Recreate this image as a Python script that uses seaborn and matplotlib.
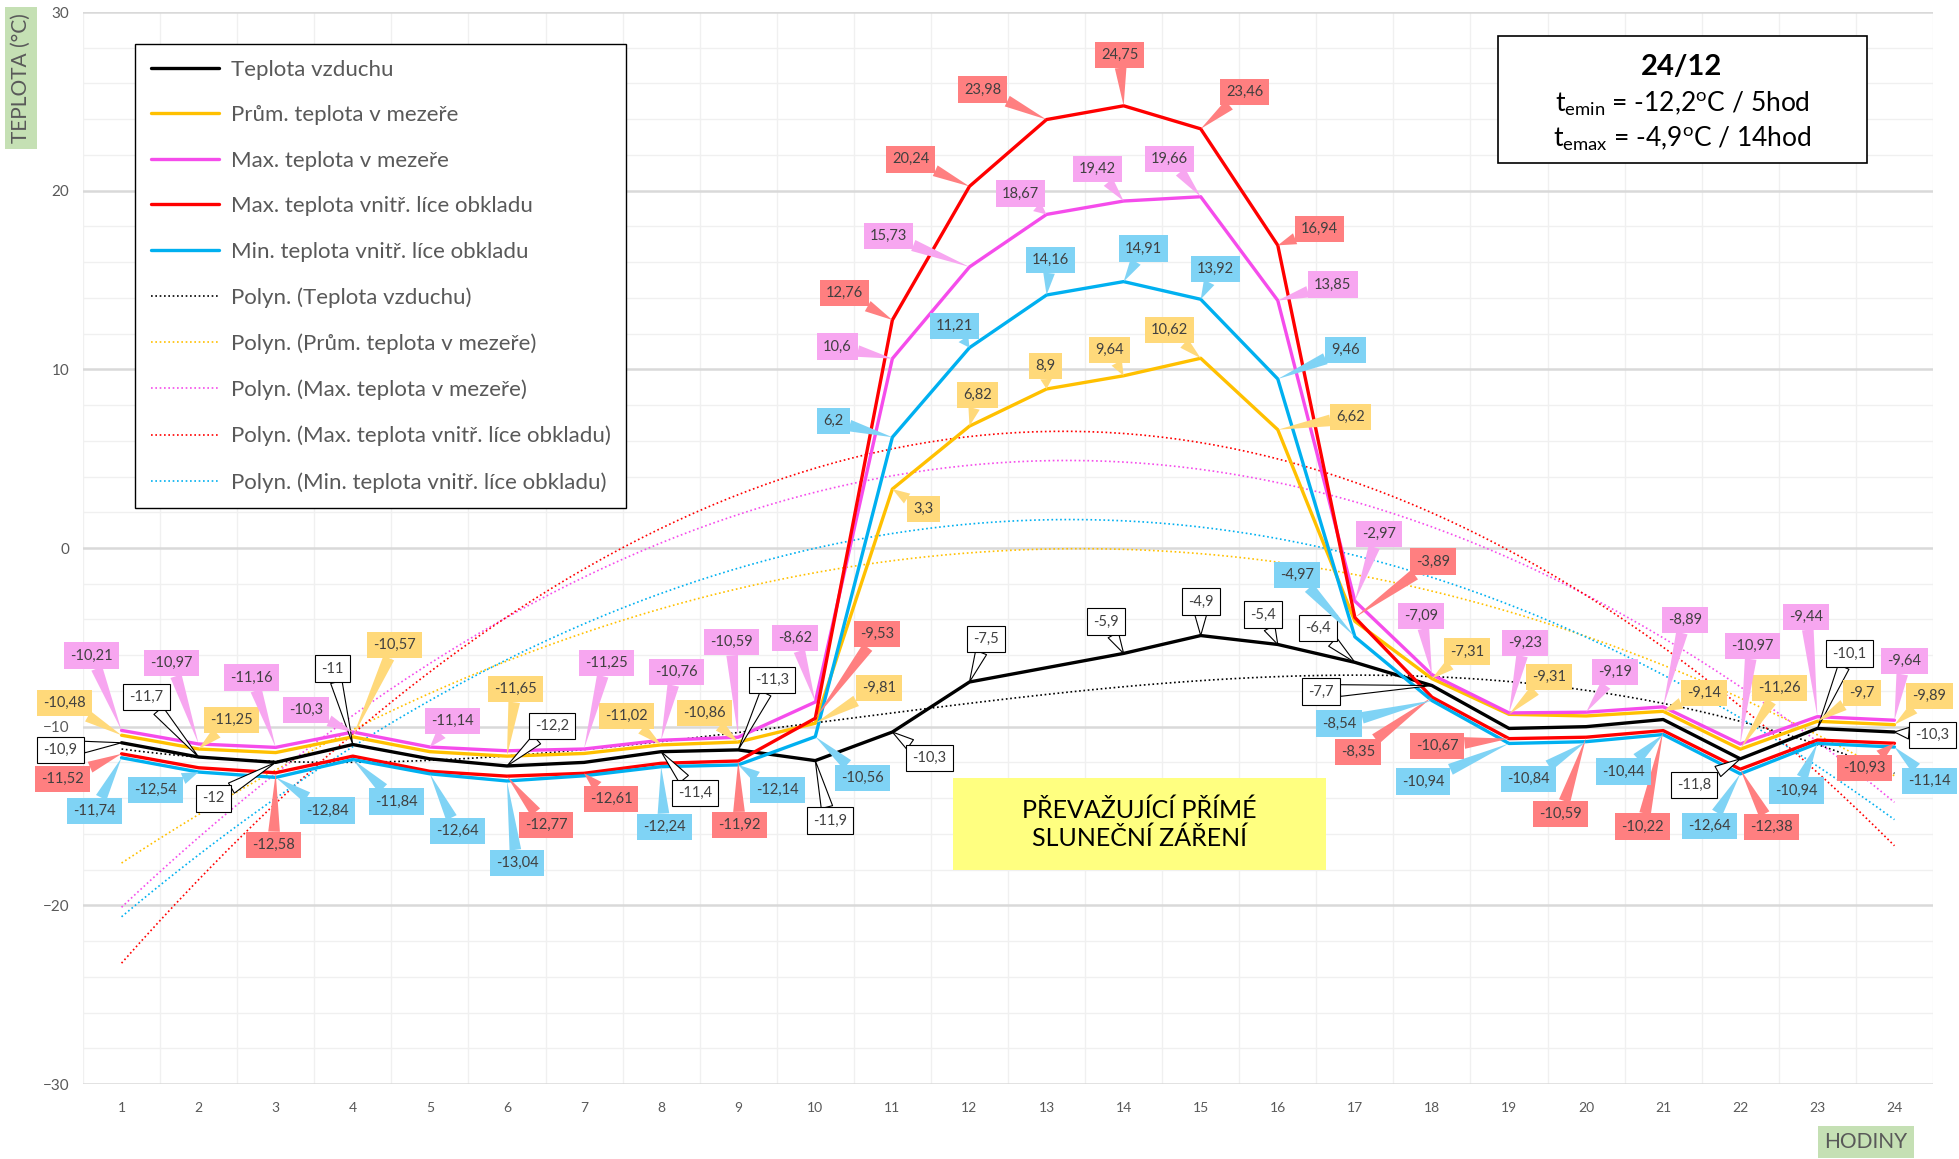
import numpy as np
import pandas as pd
import matplotlib
matplotlib.use('Agg')
import matplotlib.pyplot as plt
import seaborn as sns
from matplotlib.patches import Rectangle

# hodiny 1-24
hours = list(range(1, 25))

air = [-10.9, -11.7, -12.0, -11.0, -11.8, -12.2, -12.0, -11.4, -11.3, -11.9, -10.3, -7.5,
       -6.7, -5.9, -4.9, -5.4, -6.4, -7.7, -10.1, -10.0, -9.6, -11.8, -10.1, -10.3]
gap_avg = [-10.48, -11.25, -11.45, -10.57, -11.4, -11.65, -11.5, -11.02, -10.86, -9.81, 3.3, 6.82,
           8.9, 9.64, 10.62, 6.62, -4.1, -7.31, -9.31, -9.4, -9.14, -11.26, -9.7, -9.89]
gap_max = [-10.21, -10.97, -11.16, -10.3, -11.14, -11.35, -11.25, -10.76, -10.59, -8.62, 10.6, 15.73,
           18.67, 19.42, 19.66, 13.85, -2.97, -7.09, -9.23, -9.19, -8.89, -10.97, -9.44, -9.64]
face_max = [-11.52, -12.3, -12.58, -11.65, -12.5, -12.77, -12.61, -12.05, -11.92, -9.53, 12.76, 20.24,
            23.98, 24.75, 23.46, 16.94, -3.89, -8.35, -10.67, -10.59, -10.22, -12.38, -10.75, -10.93]
face_min = [-11.74, -12.54, -12.84, -11.84, -12.64, -13.04, -12.75, -12.24, -12.14, -10.56, 6.2, 11.21,
            14.16, 14.91, 13.92, 9.46, -4.97, -8.54, -10.94, -10.84, -10.44, -12.64, -10.94, -11.14]

names = ['Teplota vzduchu', 'Prům. teplota v mezeře', 'Max. teplota v mezeře',
         'Max. teplota vnitř. líce obkladu', 'Min. teplota vnitř. líce obkladu']
trend_order = [3, 2, 2, 2, 2]

# label offsets in pixels (dx, dy), None = no label
off_air = [(-61, -7), (-52, 60), (-62, -36), (-20, 76), None, (45, 40), None, (34, -41), (34, 70),
           (15, -60), (37, -26), (17, 43), None, (-18, 32), (0, 34), (-15, 30), (-37, 34), (-111, -6),
           None, None, None, (-46, -26), (32, 75), (38, -3)]
off_avg = [(-57, 32), (33, 29), None, (42, 92), None, (9, 67), None, (-35, 29), (-34, 29), (64, 35),
           (31, -20), (8, 31), (-1, 23), (-14, 26), (-31, 28), (73, 13), None, (35, 27), (40, 37),
           None, (41, 18), (39, 61), (45, 28), (35, 29)]
off_gmax = [(-30, 75), (-27, 81), (-24, 70), (-47, 22), (23, 26), None, (22, 86), (15, 68), (-7, 95),
            (-20, 64), (-55, 12), (-81, 31), (-26, 21), (-26, 32), (-31, 38), (55, 16), (24, 67),
            (-11, 59), (16, 70), (29, 40), (22, 87), (12, 98), (-11, 100), (10, 59)]
off_fmax = [(-59, -25), None, (-2, -72), None, None, (39, -49), (27, -26), None, (1, -64), (62, 84),
            (-48, 27), (-59, 27), (-64, 30), (-4, 51), (44, 37), (42, 16), (78, 56), (-74, -55),
            (-72, -7), (-26, -77), (-21, -96), (31, -58), None, (-30, -25)]
off_fmin = [(-27, -53), (-43, -18), (52, -33), (44, -42), (28, -57), (10, -82), None, (3, -60), (39, -25),
            (47, -41), (-59, 16), (-15, 22), (4, 35), (20, 33), (15, 30), (68, 29), (-58, 62), (-93, -23),
            (-86, -38), (-58, -37), (-40, -37), (-31, -52), (-21, -47), (35, -34)]

line_colors = ['#000000', '#ffc000', '#f54ceb', '#ff0000', '#00b0f0']
box_colors = ['#ffffff', '#ffd97a', '#f7a6f0', '#ff7f80', '#7fd3f5']

sns.set_theme(style='white')
plt.rcParams['font.family'] = ['Lato', 'DejaVu Sans']
plt.rcParams['mathtext.fontset'] = 'custom'
plt.rcParams['mathtext.rm'] = 'Lato'
plt.rcParams['mathtext.default'] = 'regular'

df = pd.DataFrame({'hod': hours})
series = [air, gap_avg, gap_max, face_max, face_min]
for name, vals in zip(names, series):
    df[name] = vals

fig = plt.figure(figsize=(19.59, 11.59), dpi=100)
ax = fig.add_axes([83 / 1959, 1 - 1084 / 1159, 1850 / 1959, 1072 / 1159])

for name, c in zip(names, line_colors):
    sns.lineplot(data=df, x='hod', y=name, color=c, lw=2.4, ax=ax, label=name, zorder=3)

for name, c, k in zip(names, line_colors, trend_order):
    sns.regplot(data=df, x='hod', y=name, order=k, ci=None, scatter=False, truncate=True, ax=ax,
                label='Polyn. (' + name + ')',
                line_kws={'color': c, 'lw': 1.2, 'ls': (0, (1, 1.6)), 'zorder': 2})

ax.set_xlim(0.5, 24.5)
ax.set_ylim(-30, 30)
ax.set_xlabel('')
ax.set_ylabel('')
ax.set_xticks(hours)
ax.set_xticks(np.arange(0.5, 24.6, 0.5), minor=True)
ax.set_yticks(range(-30, 31, 10))
ax.set_yticks(range(-30, 31, 2), minor=True)
ax.tick_params(which='both', length=0)
ax.tick_params(axis='x', labelsize=10, labelcolor='#595959', pad=13)
ax.tick_params(axis='y', labelsize=11, labelcolor='#595959', pad=10)
ax.xaxis.grid(True, which='minor', color='#f0f0f0', lw=1)
ax.xaxis.grid(False, which='major')
ax.yaxis.grid(True, which='minor', color='#f0f0f0', lw=1)
ax.yaxis.grid(True, which='major', color='#d9d9d9', lw=1.8)
ax.set_axisbelow(True)
for s in ax.spines.values():
    s.set_visible(False)

# data labels (callouts)
offsets = [off_air, off_avg, off_gmax, off_fmax, off_fmin]
for vals, offs, bc in zip(series, offsets, box_colors):
    black = bc == '#ffffff'
    for h, v, o in zip(hours, vals, offs):
        if o is None:
            continue
        txt = f'{v:g}'.replace('.', ',')
        ax.annotate(txt, xy=(h, v), xytext=o, textcoords='offset pixels',
                    ha='center', va='center', fontsize=10.5, color='#404040', zorder=6,
                    annotation_clip=False,
                    bbox=dict(boxstyle='square,pad=0.42', fc=bc,
                              ec='black' if black else 'none', lw=0.8),
                    arrowprops=dict(arrowstyle='wedge,tail_width=0.6,shrink_factor=0.5',
                                    fc=bc, ec='black' if black else 'none', lw=0.8,
                                    shrinkA=0, shrinkB=0, mutation_scale=14))

h, l = ax.get_legend_handles_labels()
leg = ax.legend(h, l, loc='upper left', bbox_to_anchor=(52 / 1850, 1 - 32 / 1072), borderaxespad=0,
                frameon=True, fancybox=False, edgecolor='black', fontsize=16, handlelength=3.1,
                labelspacing=1.15, borderpad=0.7, handletextpad=0.5, labelcolor='#595959',
                framealpha=1)
leg.get_frame().set_linewidth(1)
leg.set_zorder(7)

# info box
fig.add_artist(Rectangle((1498 / 1959, 1 - 163 / 1159), 369 / 1959, 127 / 1159,
                         transform=fig.transFigure, fc='white', ec='black', lw=1.2, zorder=5))
fig.text(1682 / 1959, 1 - 67 / 1159, '24/12', ha='center', va='center', fontsize=21,
         fontweight='bold', color='black', zorder=6)
fig.text(1682 / 1959, 1 - 104 / 1159, '$t_{emin}$ = -12,2$^{o}$C / 5hod', ha='center', va='center',
         fontsize=19, color='black', zorder=6)
fig.text(1682 / 1959, 1 - 139 / 1159, '$t_{emax}$ = -4,9$^{o}$C / 14hod', ha='center', va='center',
         fontsize=19, color='black', zorder=6)

# yellow note
fig.add_artist(Rectangle((953 / 1959, 1 - 870 / 1159), 373 / 1959, 92 / 1159,
                         transform=fig.transFigure, fc='#ffff80', ec='none', zorder=5))
fig.text(1139 / 1959, 1 - 824 / 1159, 'PŘEVAŽUJÍCÍ PŘÍMÉ\nSLUNEČNÍ ZÁŘENÍ', ha='center', va='center',
         fontsize=18, color='black', linespacing=1.25, zorder=6)

# axis titles
fig.text(21 / 1959, 1 - 78 / 1159, 'TEPLOTA (°C)', rotation=90, ha='center', va='center',
         fontsize=15, color='#595959',
         bbox=dict(boxstyle='square,pad=0.3', fc='#c5e0b4', ec='none'))
fig.text(1866 / 1959, 1 - 1142 / 1159, 'HODINY', ha='center', va='center', fontsize=15,
         color='#595959', bbox=dict(boxstyle='square,pad=0.3', fc='#c5e0b4', ec='none'))

fig.savefig('out.png', dpi=100)
